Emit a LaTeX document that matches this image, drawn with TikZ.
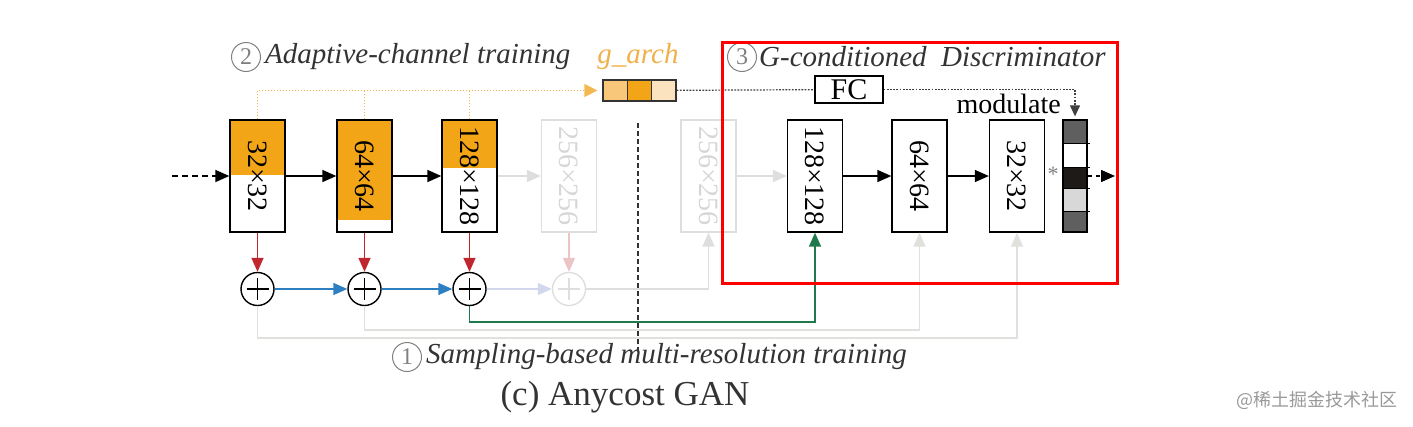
\documentclass[tikz,border=0pt]{standalone}
\usepackage{fontspec}
\setmainfont{Liberation Serif}
\newfontfamily\cjk{Noto Sans CJK SC}
\usetikzlibrary{arrows.meta,calc}
\definecolor{gorange}{HTML}{F2A516}
\definecolor{olight}{HTML}{F9C77A}
\definecolor{olighter}{HTML}{FCE3C0}
\definecolor{otext}{HTML}{F0B04A}
\definecolor{odotc}{HTML}{F4B850}
\definecolor{gred}{HTML}{C0262D}
\definecolor{gblue}{HTML}{2D7FC1}
\definecolor{ggreen}{HTML}{1E7A4A}
\definecolor{lgray}{HTML}{E0E0DC}
\definecolor{fadeg}{HTML}{DEDEDE}
\definecolor{fadetext}{HTML}{D6D6D6}
\definecolor{fadered}{HTML}{EBC5C5}
\definecolor{fadeblue}{HTML}{D3D7EE}
\definecolor{darkcell}{HTML}{5F5F5F}
\definecolor{blackcell}{HTML}{1E1A18}
\definecolor{lightcell}{HTML}{D8D8D8}
\definecolor{titlec}{HTML}{333333}
\begin{document}
\begin{tikzpicture}[x=1pt,y=-1pt,
  box/.style={draw=#1, line width=1.3pt, minimum width=55pt, minimum height=112pt, inner sep=0pt},
  topfill/.style={path picture={\fill[gorange] (path picture bounding box.north west) rectangle ([yshift=-#1]path picture bounding box.north east);}},
  lbl/.style={rotate=-90, font=\fontsize{28}{28}\selectfont, inner sep=0pt},
  arr/.style={-{Triangle[length=14pt,width=12pt]}, line width=1.5pt},
  plus/.style={circle, draw=#1, line width=1.4pt, minimum size=33pt, inner sep=0pt,
    path picture={\draw[#1, line width=1.2pt] ([xshift=-11pt]path picture bounding box.center) -- ([xshift=11pt]path picture bounding box.center);
      \draw[#1, line width=1.2pt] ([yshift=-11pt]path picture bounding box.center) -- ([yshift=11pt]path picture bounding box.center);}},
  circnum/.style={circle, draw=gray, line width=1pt, text=gray, minimum size=29pt, inner sep=0pt, font=\fontsize{24}{24}\selectfont},
  title/.style={font=\fontsize{29}{29}\itshape\selectfont, text=titlec, inner sep=0pt},
  odot/.style={draw=odotc, line width=1.5pt, dash pattern=on 1.5pt off 1.5pt},
  bdot/.style={draw=black!75, line width=1.2pt, dash pattern=on 1.8pt off 1.4pt}
]
\useasboundingbox (0,0) rectangle (1413,426);

% generator boxes
\node[box=black, topfill=55pt] (g1) at (257.5,176) {};
\node[box=black, topfill=100pt] (g2) at (364.5,176) {};
\node[box=black, topfill=48pt] (g3) at (469.5,176) {};
\node[box=fadeg] (g4) at (569,176) {};
\node[box=fadeg] (g5) at (708.5,176) {};
\node[lbl] (g1t) at (g1) {32×32};
\node[lbl] (g2t) at (g2) {64×64};
\node[lbl] (g3t) at (g3) {128×128};
\node[lbl, text=fadetext] (g4t) at (g4) {256×256};
\node[lbl, text=fadetext] (g5t) at (g5) {256×256};

% discriminator boxes
\node[box=black] (d1) at (815,176) {};
\node[box=black] (d2) at (919.5,176) {};
\node[box=black] (d3) at (1017,176) {};
\node[lbl] (d1t) at (d1) {128×128};
\node[lbl] (d2t) at (d2) {64×64};
\node[lbl] (d3t) at (d3) {32×32};

% modulation bar
\fill[darkcell] (1063,120) rectangle (1087,143);
\fill[white] (1063,143) rectangle (1087,167);
\fill[blackcell] (1063,167) rectangle (1087,188);
\fill[lightcell] (1063,188) rectangle (1087,211);
\fill[darkcell] (1063,211) rectangle (1087,232);
\node[draw=black, line width=1.3pt, minimum width=24pt, minimum height=112pt, inner sep=0pt] (bar) at (1075,176) {};
\foreach \yy in {143,167,188,211} \draw[line width=1pt] (1063,\yy) -- (1090,\yy);
\node[font=\fontsize{22}{22}\selectfont, text=gray, inner sep=0pt] (ast) at (1053,174) {*};

% g_arch
\fill[olight] (603,80) rectangle (627.3,101);
\fill[gorange] (627.3,80) rectangle (651.7,101);
\fill[olighter] (651.7,80) rectangle (676,101);
\node[draw=black!80, line width=1.3pt, minimum width=73pt, minimum height=21pt, inner sep=0pt] (garch) at (639.5,90.5) {};
\draw[black!80, line width=1.3pt] (627.3,80) -- (627.3,101) (651.7,80) -- (651.7,101);
\node[font=\fontsize{29}{29}\itshape\selectfont, text=otext, inner sep=0pt] (garcht) at (638,57) {g\_arch};

% FC
\node[draw=black, line width=1.3pt, minimum width=68pt, minimum height=27pt, inner sep=0pt, font=\fontsize{30}{30}\selectfont] (fc) at (849,89.5) {FC};
\node[font=\fontsize{28}{28}\selectfont, inner sep=0pt, anchor=east] (mod) at (1061,104) {modulate};

% plus nodes
\node[plus=black] (p1) at (257.5,289) {};
\node[plus=black] (p2) at (364.5,289) {};
\node[plus=black] (p3) at (469.5,289) {};
\node[plus=fadeg] (p4) at (569,289) {};

% coordinates
\coordinate (in) at (172,176);
\coordinate (out) at (1115,176);
\coordinate (gy) at (0,322);
\coordinate (ay) at (0,330);
\coordinate (by) at (0,338);
\coordinate (vt) at (638,123);
\coordinate (vb) at (638,350);

% main chain
\draw[arr, dash pattern=on 6pt off 4pt] (in) -- (g1);
\draw[arr] (g1) -- (g2);
\draw[arr] (g2) -- (g3);
\draw[arr, fadeg] (g3) -- (g4);
\draw[arr, fadeg] (g5) -- (d1);
\draw[arr] (d1) -- (d2);
\draw[arr] (d2) -- (d3);
\draw[arr, dash pattern=on 4pt off 4pt] (bar) -- (out);

% red down arrows
\draw[arr, gred] (g1) -- (p1);
\draw[arr, gred] (g2) -- (p2);
\draw[arr, gred] (g3) -- (p3);
\draw[arr, fadered] (g4) -- (p4);

% blue arrows
\draw[arr, gblue] (p1) -- (p2);
\draw[arr, gblue] (p2) -- (p3);
\draw[arr, fadeblue] (p3) -- (p4);
\draw[arr, fadeg] (p4) -- (g5 |- p4) -- (g5);

% skip paths
\draw[arr, lgray] (p1) -- (p1 |- by) -- (d3 |- by) -- (d3);
\draw[arr, lgray] (p2) -- (p2 |- ay) -- (d2 |- ay) -- (d2);
\draw[arr, ggreen] (p3) -- (p3 |- gy) -- (d1 |- gy) -- (d1);

% dashed divider
\draw[black!80, line width=1.2pt, dash pattern=on 5pt off 3pt] (vt) -- (vb);

% adaptive channel dotted lines
\draw[odot, -{Triangle[length=13pt,width=13pt]}, shorten >=5pt] (g1.north) |- (garch.west);
\draw[odot] (g2.north) -- (g2 |- garch);
\draw[odot] (g3.north) -- (g3 |- garch);

% g_arch -> FC -> modulate
\draw[bdot] (garch) -- (fc);
\draw[bdot, -{Triangle[length=11pt,width=10pt]}, shorten >=3pt] (fc) -| (bar);

% titles
\node[circnum] (c2) at (246,57) {2};
\node[title, anchor=west] (t2) at (265,57) {Adaptive-channel training};
\node[circnum] (c3) at (742,57) {3};
\node[title, anchor=west] (t3) at (759,57) {G-conditioned\ \ Discriminator};
\node[circnum] (c1) at (407,357) {1};
\node[title, anchor=west] (t1) at (426,357) {Sampling-based multi-resolution training};
\node[font=\fontsize{35}{35}\selectfont, text=titlec, inner sep=0pt] (cap) at (625,397) {(c) Anycost GAN};
\node[font=\cjk\fontsize{18}{18}\selectfont, text=gray!80, inner sep=0pt] (wm) at (1317,400) {@稀土掘金技术社区};

% red frame
\draw[red, line width=3pt] (722,42) rectangle (1117,283);
\end{tikzpicture}
\end{document}
